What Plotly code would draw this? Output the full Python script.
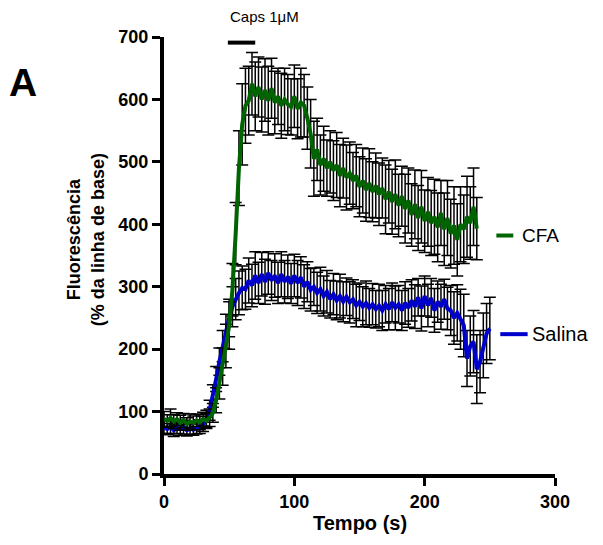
import plotly.graph_objects as go

TIME = [0, 2.5, 5, 7.5, 10, 12.5, 15, 17.5, 20, 22.5, 25, 27.5, 30, 32.5, 35, 37.5, 40, 42.5, 45, 47.5,
        50, 52.5, 55, 57.5, 60, 62.5, 65, 67.5, 70, 72.5, 75, 77.5, 80, 82.5, 85, 87.5, 90, 92.5, 95, 97.5,
        100, 102.5, 105, 107.5, 110, 112.5, 115, 117.5, 120, 122.5, 125, 127.5, 130, 132.5, 135, 137.5,
        140, 142.5, 145, 147.5, 150, 152.5, 155, 157.5, 160, 162.5, 165, 167.5, 170, 172.5, 175, 177.5,
        180, 182.5, 185, 187.5, 190, 192.5, 195, 197.5, 200, 202.5, 205, 207.5, 210, 212.5, 215, 217.5,
        220, 222.5, 225, 227.5, 230, 232.5, 235, 237.5, 240, 242.5, 245, 247.5, 250]

CFA_MEAN = [88, 85, 90, 84, 88, 82, 86, 80, 84, 82, 86, 83, 88, 85, 90,
            98, 118, 145, 172, 205, 238, 295, 385, 490,
            560, 590, 598, 625, 605, 620, 600, 615, 598, 618, 595, 605, 590, 600, 592, 588, 605, 585, 595, 590, 570,
            545, 505, 520, 495, 505, 490, 500, 486, 495, 478, 490, 475, 482, 470, 478, 460, 470, 455, 466, 452,
            462, 448, 458, 440, 452, 436, 448, 430, 445, 425, 438, 415, 432, 410, 428, 405, 420, 402, 412, 395,
            418, 392, 410, 385, 398, 375, 400, 392, 412, 402, 428, 393]
CFA_SEM = [12, 10, 14, 11, 10, 12, 11, 10, 12, 11, 10, 12, 11, 12, 14,
           15, 20, 25, 30, 35, 38, 42, 50, 60,
           65, 60, 55, 50, 55, 48, 52, 50, 55, 48, 50, 45, 52, 50, 48, 45, 50, 48, 55, 50, 50,
           55, 60, 50, 48, 52, 45, 50, 48, 52, 50, 48, 52, 50, 45, 50, 48, 52, 50, 55, 48,
           52, 50, 48, 55, 50, 52, 55, 50, 48, 55, 52, 50, 55, 52, 58, 50, 55, 52, 60, 55,
           52, 58, 60, 55, 62, 58, 60, 55, 65, 58, 62, 50]

SAL_MEAN = [75, 72, 76, 70, 74, 72, 75, 70, 73, 71, 74, 76, 80, 88, 102,
            125, 152, 180, 205, 228, 250, 268, 280, 290,
            298, 296, 310, 302, 318, 306, 320, 308, 322, 310, 318, 306, 320, 308, 316, 305, 318, 306, 315, 300,
            308, 295, 300, 290, 296, 285, 292, 280, 288, 278, 285, 276, 284, 275, 280, 270, 276, 268, 274, 266,
            272, 264, 270, 262, 272, 264, 275, 266, 272, 262, 274, 266, 278, 268, 283, 265, 285, 270, 282, 262,
            276, 268, 280, 265, 262, 250, 258, 248, 238, 185, 205, 212, 168, 180, 206, 225, 233]
SAL_SEM = [10, 9, 11, 10, 9, 10, 11, 9, 10, 9, 10, 11, 12, 14, 16,
           18, 20, 22, 25, 28, 30, 32, 33, 35,
           35, 32, 36, 34, 38, 33, 35, 36, 34, 32, 35, 33, 36, 34, 35, 32, 34, 36, 33, 35,
           32, 34, 30, 33, 35, 32, 34, 30, 33, 31, 35, 32, 30, 33, 31, 34, 30, 32, 35, 31,
           33, 30, 34, 32, 30, 33, 31, 35, 30, 32, 34, 31, 33, 35, 30, 36, 32, 34, 31, 35,
           33, 36, 32, 34,
           40, 42, 45, 48, 50, 45, 48, 50, 55, 50, 52, 48, 50]

SERIES = ["Salina", "CFA"]
CAPS_START, CAPS_END = 49, 70
X_TICKS = [0, 100, 200, 300]
Y_TICKS = [0, 100, 200, 300, 400, 500, 600, 700]

GREEN = "#006400"
BLUE = "#0000CC"
FONT = "Liberation Sans, Arial, sans-serif"

fig = go.Figure()
for name, mean, sem, color in [("Salina", SAL_MEAN, SAL_SEM, BLUE), ("CFA", CFA_MEAN, CFA_SEM, GREEN)]:
    fig.add_trace(go.Scatter(
        x=TIME[:len(mean)], y=mean, mode="lines", name=name,
        line=dict(color=color, width=4),
        error_y=dict(type="data", array=sem, visible=True, color="black", thickness=1.5, width=6),
        cliponaxis=False, showlegend=False,
    ))

# series labels at line ends
fig.add_shape(type="line", x0=255, x1=268, y0=382, y1=382, line=dict(color=GREEN, width=4))
fig.add_shape(type="line", x0=258, x1=279, y0=224, y1=224, line=dict(color=BLUE, width=4))
fig.add_annotation(x=273, y=382, text="CFA", showarrow=False, xanchor="left", yanchor="middle",
                   font=dict(family=FONT, size=19, color="black"))
fig.add_annotation(x=280.5, y=224, text="Salina", showarrow=False, xanchor="left", yanchor="middle",
                   font=dict(family=FONT, size=20, color="black"))

# capsaicin application bar
fig.add_shape(type="line", x0=CAPS_START, x1=CAPS_END, y0=691, y1=691, line=dict(color="black", width=4))
fig.add_annotation(x=77, xref="x", y=1.046, yref="paper", text="Caps 1μM", showarrow=False,
                   xanchor="center", yanchor="middle",
                   font=dict(family=FONT, size=15, color="black"))

fig.add_annotation(x=-0.36, y=0.895, xref="paper", yref="paper", text="A", showarrow=False,
                   xanchor="center", yanchor="middle",
                   font=dict(family=FONT, size=39, color="black", weight="bold"))
fig.add_annotation(x=-0.2, y=0.537, xref="paper", yref="paper", textangle=-90,
                   text="Fluorescência<br>(% da linha de base)", showarrow=False,
                   xanchor="center", yanchor="middle",
                   font=dict(family=FONT, size=18, color="black", weight="bold"))
fig.add_annotation(x=150, xref="x", y=-0.112, yref="paper", text="Tempo (s)", showarrow=False,
                   xanchor="center", yanchor="middle",
                   font=dict(family=FONT, size=20, color="black", weight="bold"))

fig.update_layout(
    width=603, height=545,
    margin=dict(l=164, r=48, t=37, b=71),
    paper_bgcolor="white", plot_bgcolor="white",
    font=dict(family=FONT, color="black"),
)
fig.update_xaxes(range=[0, 300], tickvals=X_TICKS, showgrid=False, zeroline=False,
                 showline=True, linewidth=4, linecolor="black",
                 ticks="outside", ticklen=8, tickwidth=3, tickcolor="black",
                 tickfont=dict(family=FONT, size=18, color="black", weight="bold"))
fig.update_yaxes(range=[0, 700], tickvals=Y_TICKS, showgrid=False, zeroline=False,
                 showline=True, linewidth=4, linecolor="black",
                 ticks="outside", ticklen=8, tickwidth=3, tickcolor="black",
                 tickfont=dict(family=FONT, size=18, color="black", weight="bold"))

fig.write_html("out.html")
